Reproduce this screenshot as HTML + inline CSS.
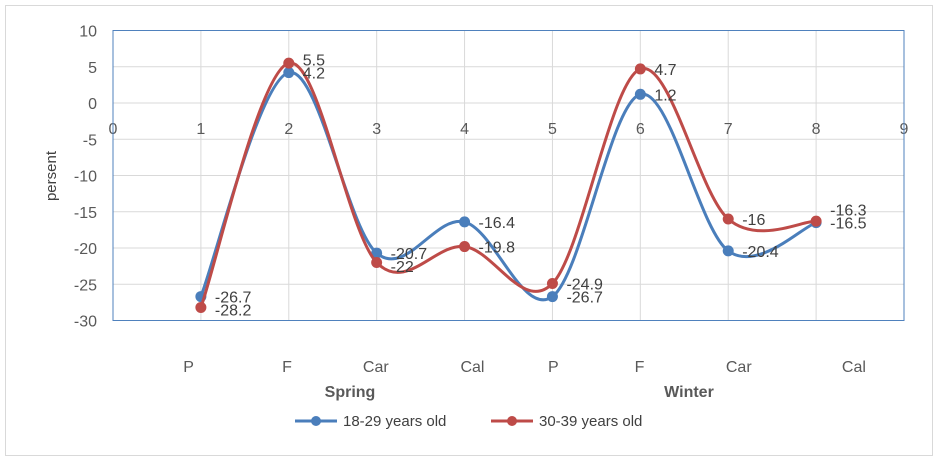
<!DOCTYPE html>
<html><head><meta charset="utf-8">
<style>
body{margin:0;background:#fff;font-family:"Liberation Sans",sans-serif;}
svg text{font-family:"Liberation Sans",sans-serif;}
</style></head>
<body>
<svg id="chart" width="943" height="464">
<rect x="5.5" y="5.5" width="927" height="450" fill="#fff" stroke="#d9d9d9"/>
<g id="grid"></g>
<g id="axes"></g>
<g id="series"></g>
<g id="labels"></g>
<text x="56" y="176" transform="rotate(-90 56 176)" text-anchor="middle" font-size="15" fill="#404040">persent</text>
<text x="350" y="397" text-anchor="middle" font-size="16" font-weight="bold" fill="#595959">Spring</text>
<text x="689" y="397" text-anchor="middle" font-size="16" font-weight="bold" fill="#595959">Winter</text>
<g>
<g>
<line x1="295" y1="421" x2="337" y2="421" stroke="#4a7ebb" stroke-width="3"/>
<circle cx="316" cy="421" r="5" fill="#4a7ebb"/>
<text x="343" y="426" font-size="15" fill="#404040">18-29 years old</text></g>
<g>
<line x1="491" y1="421" x2="533" y2="421" stroke="#be4b48" stroke-width="3"/>
<circle cx="512" cy="421" r="5" fill="#be4b48"/>
<text x="539" y="426" font-size="15" fill="#404040">30-39 years old</text></g>
</g>
</svg>
<script>
const xs = [1,2,3,4,5,6,7,8];
const blueVals = [-26.7,4.2,-20.7,-16.4,-26.7,1.2,-20.4,-16.5];
const redVals = [-28.2,5.5,-22,-19.8,-24.9,4.7,-16,-16.3];
const categories = ["P","F","Car","Cal","P","F","Car","Cal"];
const catX = [0.86,1.98,2.99,4.09,5.01,5.99,7.12,8.43];
const yTicks = [10,5,0,-5,-10,-15,-20,-25,-30];
const xTicks = [0,1,2,3,4,5,6,7,8,9];
const NS='http://www.w3.org/2000/svg';
const X0=113,X1=904,Y0=30.5,Y1=320.5;
const sx=v=>X0+(v-0)/(9-0)*(X1-X0);
const sy=v=>Y0+(10-v)/(10+30)*(Y1-Y0);
function mk(tag,attrs,parent,txt){const e=document.createElementNS(NS,tag);for(const k in attrs)e.setAttribute(k,attrs[k]);if(txt!==undefined)e.textContent=txt;parent.appendChild(e);return e;}
const grid=document.getElementById('grid'),axes=document.getElementById('axes'),ser=document.getElementById('series'),lab=document.getElementById('labels');
yTicks.forEach(t=>{
  const l=mk('line',{x1:X0,x2:X1,y1:sy(t),y2:sy(t),stroke:'#d9d9d9'},grid);
  
  
  const tx=mk('text',{x:97,y:sy(t)+6,'text-anchor':'end','font-size':16,fill:'#595959'},axes,t);
  
  
});
xTicks.forEach(t=>{
  const l=mk('line',{x1:sx(t),x2:sx(t),y1:Y0,y2:Y1,stroke:'#d9d9d9'},grid);
  
  
  const tx=mk('text',{x:sx(t),y:sy(0)+31,'text-anchor':'middle','font-size':16,fill:'#595959'},axes,t);
  
  
});
const box=mk('rect',{x:X0,y:Y0,width:X1-X0,height:Y1-Y0,fill:'none',stroke:'#4f81bd'},axes);


categories.forEach((c,i)=>{
  const tx=mk('text',{x:sx(catX[i]),y:372,'text-anchor':'middle','font-size':16,fill:'#595959'},axes,c);
  
  
});
function smooth(pts){
  let d='M'+pts[0][0]+','+pts[0][1];
  for(let i=0;i<pts.length-1;i++){
    const p0=pts[i-1]||pts[i],p1=pts[i],p2=pts[i+1],p3=pts[i+2]||p2;
    const c1=[p1[0]+(p2[0]-p0[0])/6,p1[1]+(p2[1]-p0[1])/6];
    const c2=[p2[0]-(p3[0]-p1[0])/6,p2[1]-(p3[1]-p1[1])/6];
    d+=` C${c1[0]},${c1[1]} ${c2[0]},${c2[1]} ${p2[0]},${p2[1]}`;
  }
  return d;
}
const blueLabelY=[];
function draw(vals,color,name,isRed){
  const pts=xs.map((x,i)=>[sx(x),sy(vals[i])]);
  const p=mk('path',{d:smooth(pts),fill:'none',stroke:color,'stroke-width':3},ser);
  
  
  pts.forEach((pt,i)=>{
    const c=mk('circle',{cx:pt[0],cy:pt[1],r:5.5,fill:color},ser);
    
    
    let ly=pt[1]+6;
    if(isRed){const b=blueLabelY[i];if(Math.abs(ly-b)<13)ly=b+(ly>=b?13:-13);}
    else blueLabelY[i]=ly;
    const t=mk('text',{x:pt[0]+14,y:ly,'font-size':16,fill:'#404040'},lab,vals[i]);
    
    
  });
}
draw(blueVals,'#4a7ebb','series-18-29',false);
draw(redVals,'#be4b48','series-30-39',true);
</script>
</body></html>
